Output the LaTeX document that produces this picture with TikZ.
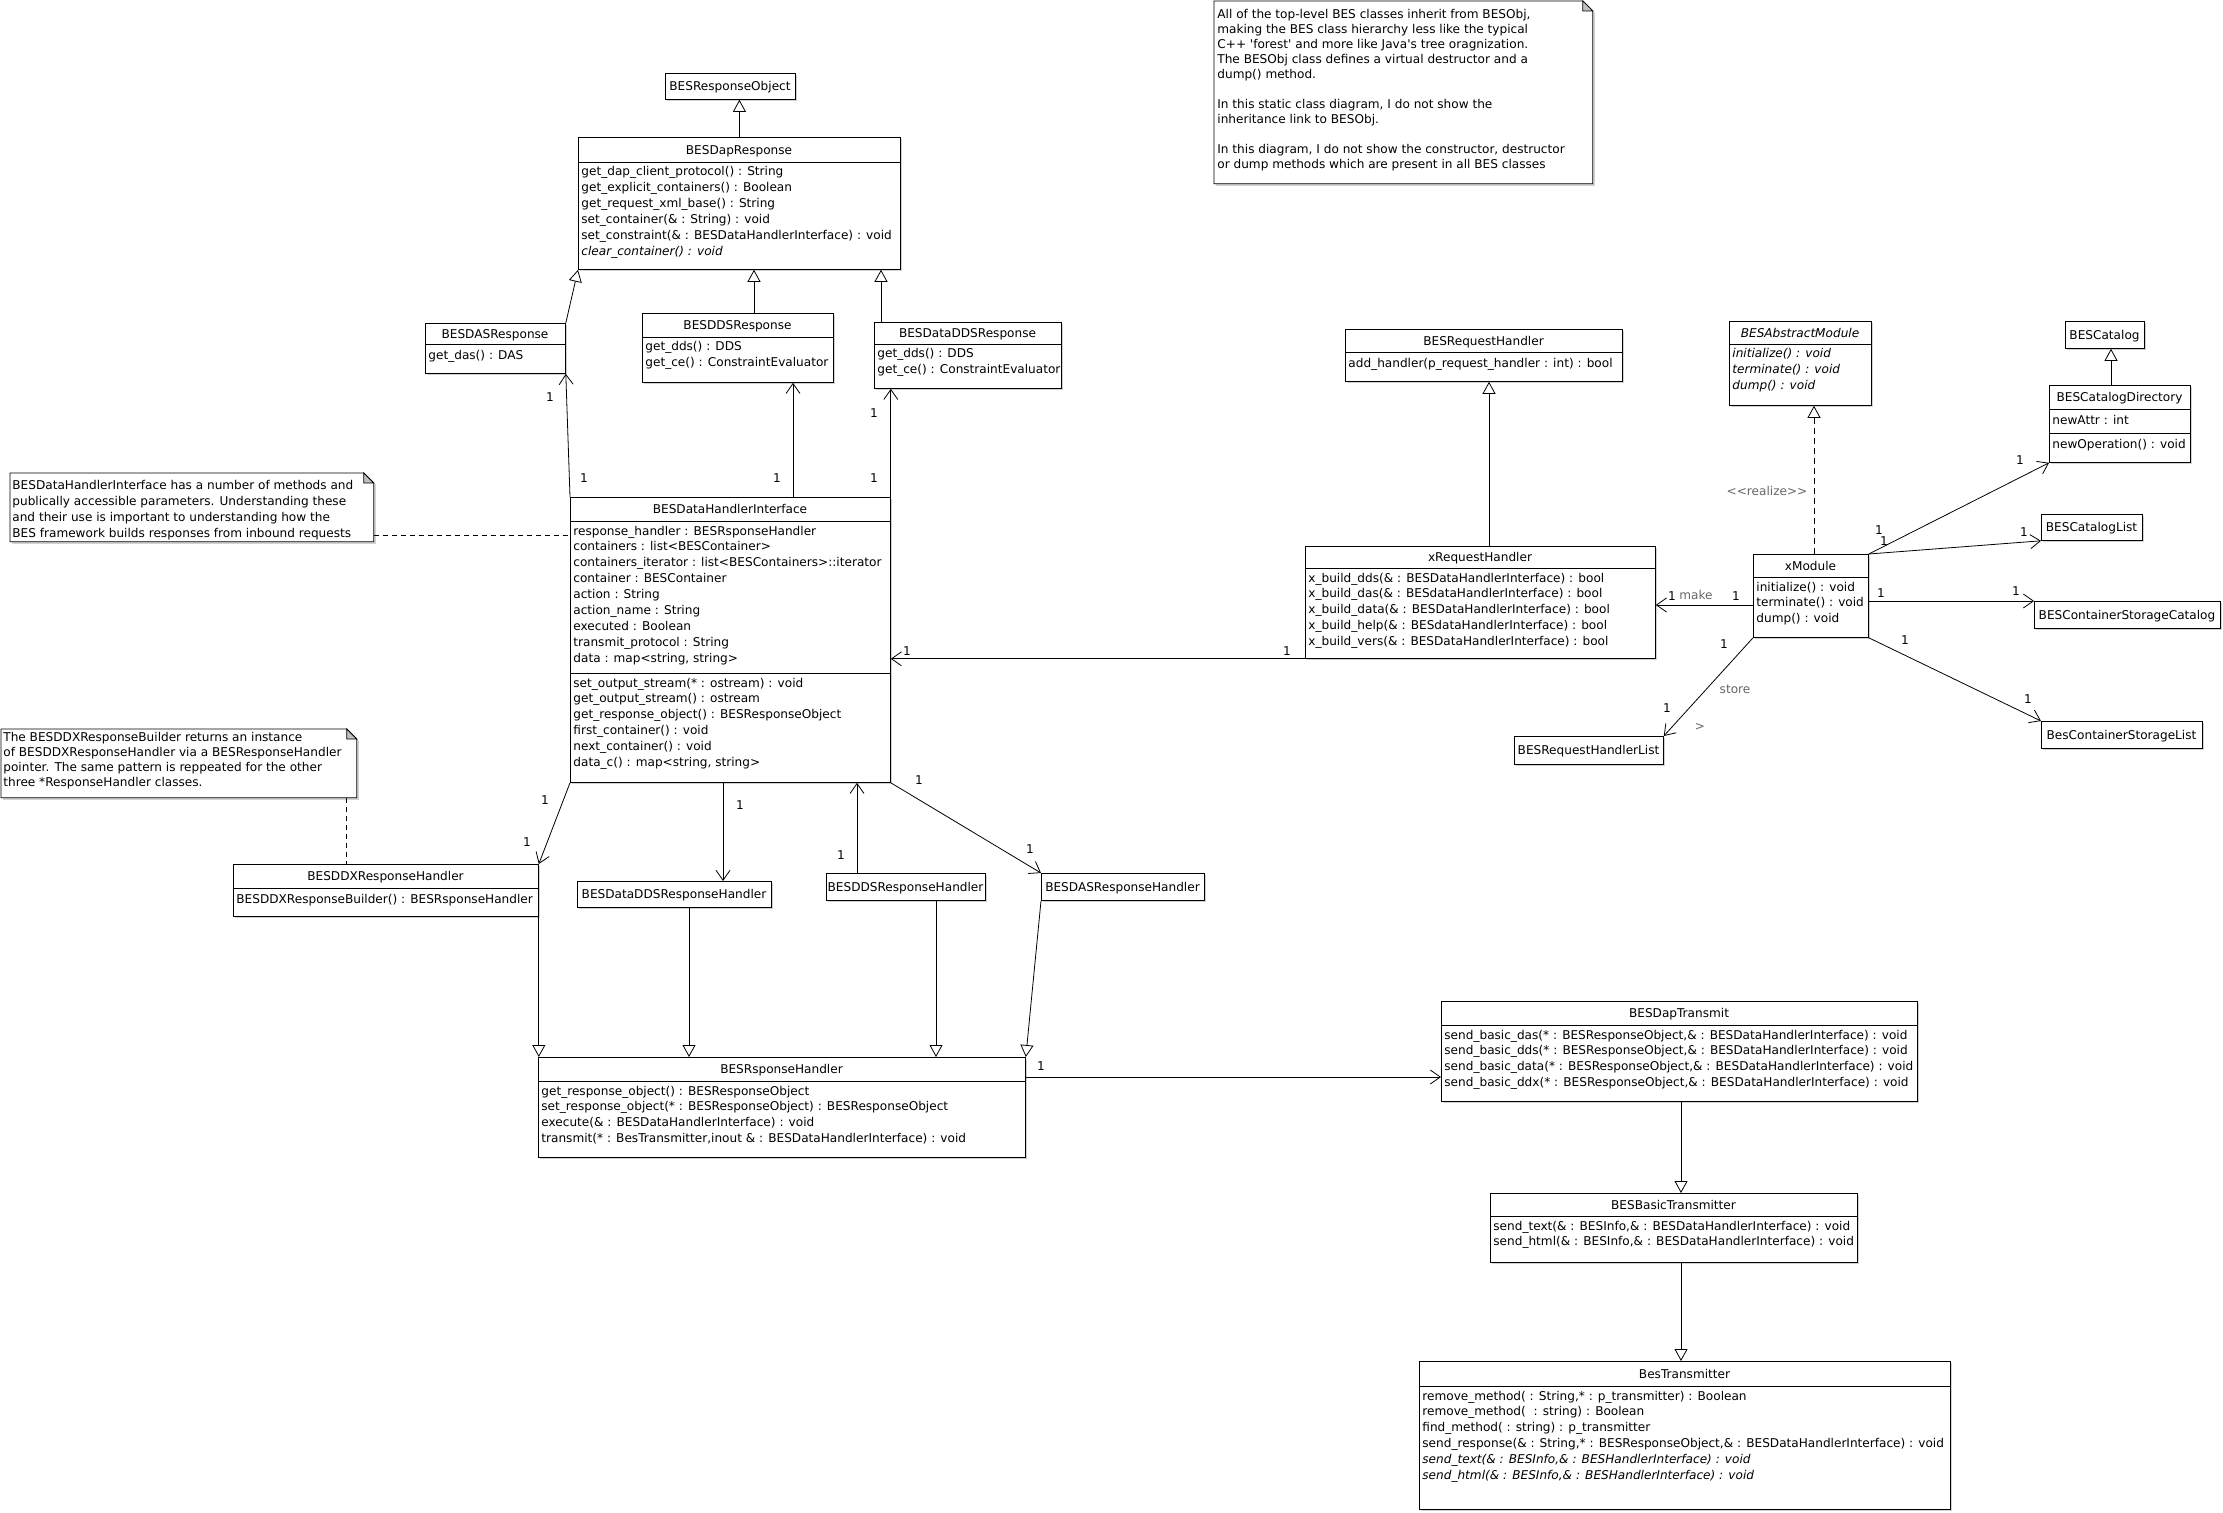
\documentclass[tikz,border=0pt]{standalone}
\usepackage{fontspec}
\setmainfont{DejaVu Sans}
\usetikzlibrary{positioning, arrows.meta, shadows}

\tikzset{
  shd/.style={drop shadow={shadow xshift=2pt, shadow yshift=-2pt, fill=black!35, opacity=0.5}},
  cls/.style={draw, fill=white, inner sep=0pt, anchor=north west, shd},
  ttl/.style={anchor=base, inner sep=0pt},
  mem/.style={anchor=north west, inner sep=0pt, align=left, execute at begin node=\strut},
  mult/.style={inner sep=0pt},
  stereo/.style={inner sep=0pt, text=black!60},
  inh/.style={-{Triangle[open, length=12pt, width=13pt]}},
  asc/.style={-{Straight Barb[length=10pt, width=14pt]}},
  notebox/.style={inner sep=0pt, anchor=north west},
  notetext/.style={anchor=north west, inner sep=0pt, align=left, execute at begin node=\strut},
  notelink/.style={dash pattern=on 5pt off 4pt}
}

\begin{document}
\begin{tikzpicture}[x=1pt, y=-1pt, line width=0.8pt, font=\fontsize{12.1}{15.9}\selectfont]
\useasboundingbox (0,0) rectangle (2223,1512);

% notes
\node[notebox, minimum width=378pt, minimum height=182pt] (topnote) at (1214,1) {};
\draw[fill=white, shd] (topnote.north west) -- ([xshift=-10pt]topnote.north east) -- ([yshift=-10pt]topnote.north east) -- (topnote.south east) -- (topnote.south west) -- cycle;
\draw[fill=black!25] ([xshift=-10pt]topnote.north east) -- ([yshift=-10pt]topnote.north east) -- ([xshift=-10pt,yshift=-10pt]topnote.north east) -- cycle;
\node[notetext, font=\fontsize{12.1}{15}\selectfont] (topnoteT) at (1217,9) {All of the top-level BES classes inherit from BESObj,\\making the BES class hierarchy less like the typical\\C++ \textquotesingle forest\textquotesingle{} and more like Java\textquotesingle s tree oragnization.\\The BESObj class defines a virtual destructor and a\\dump() method.\\\strut\\In this static class diagram, I do not show the\\inheritance link to BESObj.\\\strut\\In this diagram, I do not show the constructor, destructor\\or dump methods which are present in all BES classes};

\node[notebox, minimum width=363pt, minimum height=68pt] (noteDHI) at (10,473) {};
\draw[fill=white, shd] (noteDHI.north west) -- ([xshift=-10pt]noteDHI.north east) -- ([yshift=-10pt]noteDHI.north east) -- (noteDHI.south east) -- (noteDHI.south west) -- cycle;
\draw[fill=black!25] ([xshift=-10pt]noteDHI.north east) -- ([yshift=-10pt]noteDHI.north east) -- ([xshift=-10pt,yshift=-10pt]noteDHI.north east) -- cycle;
\node[notetext] (noteDHIT) at (12,480.4) {BESDataHandlerInterface has a number of methods and\\publically accessible parameters. Understanding these\\and their use is important to understanding how the\\BES framework builds responses from inbound requests};

\node[notebox, minimum width=355pt, minimum height=68pt] (noteDDX) at (1,729) {};
\draw[fill=white, shd] (noteDDX.north west) -- ([xshift=-10pt]noteDDX.north east) -- ([yshift=-10pt]noteDDX.north east) -- (noteDDX.south east) -- (noteDDX.south west) -- cycle;
\draw[fill=black!25] ([xshift=-10pt]noteDDX.north east) -- ([yshift=-10pt]noteDDX.north east) -- ([xshift=-10pt,yshift=-10pt]noteDDX.north east) -- cycle;
\node[notetext, font=\fontsize{12.1}{15}\selectfont] (noteDDXT) at (3,732) {The BESDDXResponseBuilder returns an instance\\of BESDDXResponseHandler via a BESResponseHandler\\pointer. The same pattern is reppeated for the other\\three *ResponseHandler classes.};

% response classes
\node[cls, minimum width=130pt, minimum height=26pt] (ro) at (665,73) {};
\node[ttl] (roT) at (730,90.5) {BESResponseObject};

\node[cls, minimum width=322pt, minimum height=132pt] (dap) at (578,137) {};
\node[ttl] (dapT) at (739,154) {BESDapResponse};
\draw (dap.west |- 0,162) -- (dap.east |- 0,162);
\node[mem] (dapM) at (581,166.4) {get\_dap\_client\_protocol() : String\\get\_explicit\_containers() : Boolean\\get\_request\_xml\_base() : String\\set\_container(\& : String) : void\\set\_constraint(\& : BESDataHandlerInterface) : void\\\textit{clear\_container() : void}};

\node[cls, minimum width=140pt, minimum height=50pt] (das) at (425,323) {};
\node[ttl] (dasT) at (495,338) {BESDASResponse};
\draw (das.west |- 0,344) -- (das.east |- 0,344);
\node[mem] (dasM) at (428,348.4) {get\_das() : DAS};

\node[cls, minimum width=191pt, minimum height=69pt] (dds) at (642,313) {};
\node[ttl] (ddsT) at (737.5,329.5) {BESDDSResponse};
\draw (dds.west |- 0,337) -- (dds.east |- 0,337);
\node[mem] (ddsM) at (645,341.4) {get\_dds() : DDS\\get\_ce() : ConstraintEvaluator};

\node[cls, minimum width=187pt, minimum height=66pt] (ddds) at (874,322) {};
\node[ttl] (dddsT) at (967.5,337.5) {BESDataDDSResponse};
\draw (ddds.west |- 0,344) -- (ddds.east |- 0,344);
\node[mem] (dddsM) at (877,348.4) {get\_dds() : DDS\\get\_ce() : ConstraintEvaluator};

% data handler interface
\node[cls, minimum width=320pt, minimum height=285pt] (dhi) at (570,497) {};
\node[ttl] (dhiT) at (730,513.5) {BESDataHandlerInterface};
\draw (dhi.west |- 0,521) -- (dhi.east |- 0,521);
\node[mem] (dhiA) at (573,525.4) {response\_handler : BESRsponseHandler\\containers : list<BESContainer>\\containers\_iterator : list<BESContainers>::iterator\\container : BESContainer\\action : String\\action\_name : String\\executed : Boolean\\transmit\_protocol : String\\data : map<string, string>};
\draw (dhi.west |- 0,673) -- (dhi.east |- 0,673);
\node[mem] (dhiM) at (573,677.4) {set\_output\_stream(* : ostream) : void\\get\_output\_stream() : ostream\\get\_response\_object() : BESResponseObject\\first\_container() : void\\next\_container() : void\\data\_c() : map<string, string>};

% response handlers
\node[cls, minimum width=305pt, minimum height=52pt] (ddx) at (233,864) {};
\node[ttl] (ddxT) at (385.5,880.5) {BESDDXResponseHandler};
\draw (ddx.west |- 0,888) -- (ddx.east |- 0,888);
\node[mem] (ddxM) at (236,892.4) {BESDDXResponseBuilder() : BESRsponseHandler};

\node[cls, minimum width=194pt, minimum height=26pt] (ddsrh) at (577,881) {};
\node[ttl] (ddsrhT) at (674,898.5) {BESDataDDSResponseHandler};

\node[cls, minimum width=159pt, minimum height=27pt] (ddsrh2) at (826,873) {};
\node[ttl] (ddsrh2T) at (905.5,891) {BESDDSResponseHandler};

\node[cls, minimum width=163pt, minimum height=27pt] (dasrh) at (1041,873) {};
\node[ttl] (dasrhT) at (1122.5,891) {BESDASResponseHandler};

\node[cls, minimum width=487pt, minimum height=100pt] (rh) at (538,1057) {};
\node[ttl] (rhT) at (781.5,1073.5) {BESRsponseHandler};
\draw (rh.west |- 0,1081) -- (rh.east |- 0,1081);
\node[mem] (rhM) at (541,1085.4) {get\_response\_object() : BESResponseObject\\set\_response\_object(* : BESResponseObject) : BESResponseObject\\execute(\& : BESDataHandlerInterface) : void\\transmit(* : BesTransmitter,inout \& : BESDataHandlerInterface) : void};

% transmitters
\node[cls, minimum width=476pt, minimum height=100pt] (dapt) at (1441,1001) {};
\node[ttl] (daptT) at (1679,1017.5) {BESDapTransmit};
\draw (dapt.west |- 0,1025) -- (dapt.east |- 0,1025);
\node[mem] (daptM) at (1444,1029.4) {send\_basic\_das(* : BESResponseObject,\& : BESDataHandlerInterface) : void\\send\_basic\_dds(* : BESResponseObject,\& : BESDataHandlerInterface) : void\\send\_basic\_data(* : BESResponseObject,\& : BESDataHandlerInterface) : void\\send\_basic\_ddx(* : BESResponseObject,\& : BESDataHandlerInterface) : void};

\node[cls, minimum width=367pt, minimum height=69pt] (basic) at (1490,1193) {};
\node[ttl] (basicT) at (1673.5,1209) {BESBasicTransmitter};
\draw (basic.west |- 0,1216) -- (basic.east |- 0,1216);
\node[mem] (basicM) at (1493,1220.4) {send\_text(\& : BESInfo,\& : BESDataHandlerInterface) : void\\send\_html(\& : BESInfo,\& : BESDataHandlerInterface) : void};

\node[cls, minimum width=531pt, minimum height=148pt] (bt) at (1419,1361) {};
\node[ttl] (btT) at (1684.5,1378) {BesTransmitter};
\draw (bt.west |- 0,1386) -- (bt.east |- 0,1386);
\node[mem] (btM) at (1422,1390.4) {remove\_method( : String,* : p\_transmitter) : Boolean\\remove\_method(\ \ : string) : Boolean\\find\_method( : string) : p\_transmitter\\send\_response(\& : String,* : BESResponseObject,\& : BESDataHandlerInterface) : void\\\textit{send\_text(\& : BESInfo,\& : BESHandlerInterface) : void}\\\textit{send\_html(\& : BESInfo,\& : BESHandlerInterface) : void}};

% request handlers
\node[cls, minimum width=277pt, minimum height=52pt] (brh) at (1345,329) {};
\node[ttl] (brhT) at (1483.5,345) {BESRequestHandler};
\draw (brh.west |- 0,352) -- (brh.east |- 0,352);
\node[mem] (brhM) at (1348,356.4) {add\_handler(p\_request\_handler : int) : bool};

\node[cls, minimum width=350pt, minimum height=112pt] (xrh) at (1305,546) {};
\node[ttl] (xrhT) at (1480,561.5) {xRequestHandler};
\draw (xrh.west |- 0,568) -- (xrh.east |- 0,568);
\node[mem] (xrhM) at (1308,572.4) {x\_build\_dds(\& : BESDataHandlerInterface) : bool\\x\_build\_das(\& : BESdataHandlerInterface) : bool\\x\_build\_data(\& : BESDataHandlerInterface) : bool\\x\_build\_help(\& : BESdataHandlerInterface) : bool\\x\_build\_vers(\& : BESDataHandlerInterface) : bool};

\node[cls, minimum width=149pt, minimum height=28pt] (rhl) at (1514,736) {};
\node[ttl] (rhlT) at (1588.5,754.5) {BESRequestHandlerList};

% module
\node[cls, minimum width=142pt, minimum height=84pt] (bam) at (1729,321) {};
\node[ttl] (bamT) at (1800,337) {\textit{BESAbstractModule}};
\draw (bam.west |- 0,344) -- (bam.east |- 0,344);
\node[mem] (bamM) at (1732,348.4) {\textit{initialize() : void}\\\textit{terminate() : void}\\\textit{dump() : void}};

\node[cls, minimum width=115pt, minimum height=83pt] (xmod) at (1753,554) {};
\node[ttl] (xmodT) at (1810.5,570) {xModule};
\draw (xmod.west |- 0,577) -- (xmod.east |- 0,577);
\node[mem] (xmodM) at (1756,581.4) {initialize() : void\\terminate() : void\\dump() : void};

\node[cls, minimum width=79pt, minimum height=27pt] (cat) at (2065,321) {};
\node[ttl] (catT) at (2104.5,339) {BESCatalog};

\node[cls, minimum width=141pt, minimum height=77pt] (catdir) at (2049,385) {};
\node[ttl] (catdirT) at (2119.5,401.5) {BESCatalogDirectory};
\draw (catdir.west |- 0,409) -- (catdir.east |- 0,409);
\node[mem] (catdirA) at (2052,413.4) {newAttr : int};
\draw (catdir.west |- 0,433) -- (catdir.east |- 0,433);
\node[mem] (catdirM) at (2052,437.4) {newOperation() : void};

\node[cls, minimum width=101pt, minimum height=26pt] (catlist) at (2041,514) {};
\node[ttl] (catlistT) at (2091.5,531.5) {BESCatalogList};

\node[cls, minimum width=186pt, minimum height=27pt] (csc) at (2034,601) {};
\node[ttl] (cscT) at (2127,619) {BESContainerStorageCatalog};

\node[cls, minimum width=161pt, minimum height=27pt] (csl) at (2041,721) {};
\node[ttl] (cslT) at (2121.5,739) {BesContainerStorageList};

% generalizations
\draw[inh] (dap.north) -- (dap.north |- ro.south);
\draw[inh] (das.north east) -- (dap.south west);
\draw[inh] (754,0 |- dds.north) -- (754,0 |- dap.south);
\draw[inh] (881,0 |- ddds.north) -- (881,0 |- dap.south);
\draw[inh] (1489,0 |- xrh.north) -- (1489,0 |- brh.south);
\draw[inh] (2111,0 |- catdir.north) -- (2111,0 |- cat.south);
\draw[inh, dash pattern=on 6pt off 4pt] (1814,0 |- xmod.north) -- (1814,0 |- bam.south);
\draw[inh] (ddx.south east) -- (ddx.south east |- rh.north);
\draw[inh] (689,0 |- ddsrh.south) -- (689,0 |- rh.north);
\draw[inh] (936,0 |- ddsrh2.south) -- (936,0 |- rh.north);
\draw[inh] (dasrh.south west) -- (rh.north east);
\draw[inh] (1681,0 |- dapt.south) -- (1681,0 |- basic.north);
\draw[inh] (1681,0 |- basic.south) -- (1681,0 |- bt.north);

% associations
\draw[asc] (dhi.north west) -- (das.south east);
\draw[asc] (793,0 |- dhi.north) -- (793,0 |- dds.south);
\draw[asc] (dhi.north east) -- (dhi.north east |- ddds.south);
\draw[asc] (xrh.south west) -- (xrh.south west -| dhi.east);
\draw[asc] (dhi.south west) -- (ddx.north east);
\draw[asc] (723,0 |- dhi.south) -- (723,0 |- ddsrh.north);
\draw[asc] (857,0 |- ddsrh2.north) -- (857,0 |- dhi.south);
\draw[asc] (dhi.south east) -- (dasrh.north west);
\draw[asc] (rh.east |- 0,1077) -- (dapt.west |- 0,1077);
\draw[asc] (xmod.west |- 0,605) -- (xrh.east |- 0,605);
\draw[asc] (xmod.north east) -- (catdir.south west);
\draw[asc] (xmod.north east) -- (catlist.south west);
\draw[asc] (xmod.east |- csc.north west) -- (csc.north west);
\draw[asc] (xmod.south east) -- (csl.north west);
\draw[asc] (xmod.south west) -- (rhl.north east);

% note links
\draw[notelink] (noteDHI.east |- 0,535) -- (dhi.west |- 0,535);
\draw[notelink] (346,0 |- noteDDX.south) -- (346,0 |- ddx.north);

% multiplicities and labels
\node[mult] (m1) at (550,397) {1};
\node[mult] (m2) at (584,478) {1};
\node[mult] (m3) at (777,478) {1};
\node[mult] (m4) at (874,413) {1};
\node[mult] (m5) at (874,478) {1};
\node[mult] (m6) at (907,651) {1};
\node[mult] (m7) at (1287,651) {1};
\node[mult] (m8) at (545,800) {1};
\node[mult] (m9) at (527,842) {1};
\node[mult] (m10) at (740,805) {1};
\node[mult] (m11) at (841,855) {1};
\node[mult] (m12) at (919,780) {1};
\node[mult] (m13) at (1030,849) {1};
\node[mult] (m14) at (1041,1066) {1};
\node[mult] (m15) at (1672,596) {1};
\node[mult] (m16) at (1736,596) {1};
\node[mult] (m17) at (2020,460) {1};
\node[mult] (m18) at (1879,530) {1};
\node[mult] (m19) at (1884,541) {1};
\node[mult] (m20) at (2024,532) {1};
\node[mult] (m21) at (1881,593) {1};
\node[mult] (m22) at (2016,591) {1};
\node[mult] (m23) at (1905,640) {1};
\node[mult] (m24) at (2028,699) {1};
\node[mult] (m25) at (1724,644) {1};
\node[mult] (m26) at (1667,708) {1};
\node[stereo] (make) at (1696,595) {make};
\node[stereo] (store) at (1735,689) {store};
\node[stereo] (dir) at (1700,727) {>};
\node[stereo] (realize) at (1767,491) {<{}<realize>{}>};

\end{tikzpicture}
\end{document}
